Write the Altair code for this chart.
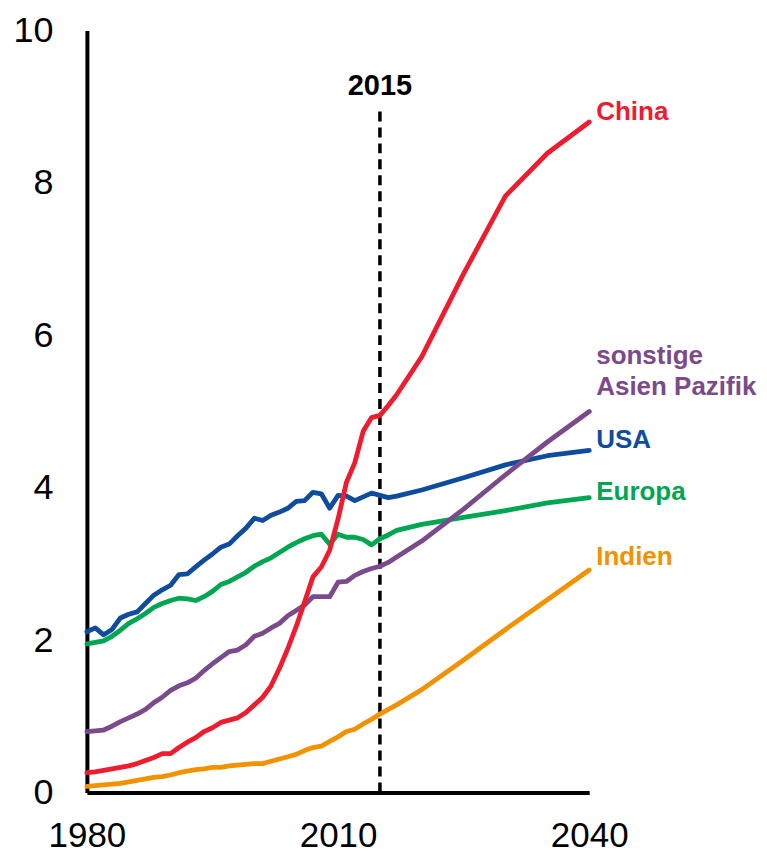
import altair as alt
import pandas as pd

years = list(range(1980, 2018)) + [2020, 2025, 2030, 2035, 2040]

china = [0.26, 0.27, 0.29, 0.31, 0.33, 0.35, 0.38, 0.42, 0.46, 0.51,
         0.51, 0.59, 0.66, 0.72, 0.80, 0.85, 0.92, 0.95, 0.98, 1.05,
         1.15, 1.25, 1.40, 1.63, 1.89, 2.18, 2.50, 2.83, 2.96, 3.18,
         3.59, 4.07, 4.33, 4.74, 4.92, 4.95, 5.08, 5.22,
         5.72, 6.81, 7.83, 8.39, 8.80]
usa = [2.11, 2.16, 2.07, 2.14, 2.29, 2.34, 2.37, 2.48, 2.59, 2.66,
       2.72, 2.86, 2.87, 2.96, 3.05, 3.13, 3.22, 3.26, 3.37, 3.47,
       3.60, 3.57, 3.64, 3.68, 3.73, 3.82, 3.83, 3.94, 3.92, 3.73,
       3.90, 3.89, 3.83, 3.88, 3.93, 3.90, 3.87, 3.89,
       3.97, 4.13, 4.30, 4.42, 4.49]
europa = [1.95, 1.97, 1.99, 2.05, 2.13, 2.22, 2.28, 2.35, 2.43, 2.48,
          2.52, 2.55, 2.54, 2.52, 2.57, 2.64, 2.73, 2.77, 2.83, 2.89,
          2.97, 3.03, 3.08, 3.15, 3.22, 3.28, 3.33, 3.37, 3.39, 3.26,
          3.39, 3.35, 3.35, 3.32, 3.25, 3.33, 3.38, 3.44,
          3.52, 3.61, 3.70, 3.80, 3.87]
asien = [0.80, 0.81, 0.82, 0.87, 0.93, 0.98, 1.03, 1.09, 1.18, 1.25,
         1.34, 1.40, 1.44, 1.50, 1.60, 1.69, 1.77, 1.85, 1.87, 1.94,
         2.05, 2.09, 2.16, 2.22, 2.32, 2.39, 2.46, 2.57, 2.57, 2.57,
         2.76, 2.77, 2.85, 2.90, 2.94, 2.97, 3.02, 3.09,
         3.30, 3.72, 4.17, 4.60, 5.00]
indien = [0.08, 0.09, 0.10, 0.11, 0.12, 0.14, 0.16, 0.18, 0.20, 0.21,
          0.23, 0.26, 0.28, 0.30, 0.31, 0.33, 0.33, 0.35, 0.36, 0.37,
          0.38, 0.38, 0.41, 0.44, 0.47, 0.50, 0.55, 0.59, 0.61, 0.67,
          0.73, 0.80, 0.83, 0.90, 0.96, 1.03, 1.09, 1.15,
          1.35, 1.74, 2.14, 2.53, 2.92]

series_names = ["Indien", "Europa", "USA", "Asien", "China"]
series_values = [indien, europa, usa, asien, china]
colors = ["#F39200", "#00A651", "#0F4C9E", "#7B4A8C", "#EE1C2E"]

# label lines: (series, text, dy offset from line end)
label_lines = [
    ("China", "China", -2),
    ("Asien", "sonstige", -48),
    ("Asien", "Asien Pazifik", -17),
    ("USA", "USA", -2),
    ("Europa", "Europa", 2),
    ("Indien", "Indien", -5),
]

marker_year = [2015]
marker_top = [9.0]
marker_label = ["2015"]

rows = []
for name, vals in zip(series_names, series_values):
    for yr, v in zip(years, vals):
        rows.append({"year": yr, "value": v, "series": name})
df = pd.DataFrame(rows)

color_scale = alt.Scale(domain=series_names, range=colors)
FONT = "Liberation Sans"

x_enc = alt.X("year:Q", scale=alt.Scale(domain=[1980, 2040], nice=False, zero=False),
              axis=alt.Axis(values=[1980, 2010, 2040], format="d", title=None,
                            grid=False, ticks=False, labelFontSize=35,
                            labelFont=FONT, labelColor="black", labelPadding=26,
                            domainColor="black", domainWidth=4, labelFlush=False))
y_enc = alt.Y("value:Q", scale=alt.Scale(domain=[0, 10], nice=False),
              axis=alt.Axis(values=[0, 2, 4, 6, 8, 10], format="d", title=None, grid=False,
                            ticks=False, labelFontSize=36, labelFont=FONT,
                            labelColor="black", labelPadding=34,
                            domainColor="black", domainWidth=4))

lines = alt.Chart(df).mark_line(strokeWidth=4.8, strokeCap="round", strokeJoin="round").encode(
    x=x_enc,
    y=y_enc,
    color=alt.Color("series:N", scale=color_scale, legend=None),
    order=alt.Order("year:Q"),
)

mdf = pd.DataFrame({"year": marker_year, "top": marker_top, "label": marker_label, "zero": [0]})
rule = alt.Chart(mdf).mark_rule(color="black", strokeWidth=3.5, strokeDash=[10, 6]).encode(
    x="year:Q", y="zero:Q", y2="top:Q")
rule_text = alt.Chart(mdf).mark_text(fontSize=29, fontWeight="bold", font=FONT, color="black",
                                     baseline="alphabetic", dy=-12).encode(
    x="year:Q", y="top:Q", text="label:N")

end_df = df[df["year"] == 2040]
label_layers = []
for ser, txt, dy in label_lines:
    ldf = end_df[end_df["series"] == ser].assign(text=txt)
    label_layers.append(
        alt.Chart(ldf).mark_text(align="left", baseline="alphabetic", dx=7, dy=dy,
                                 fontSize=26, fontWeight="bold", font=FONT).encode(
            x="year:Q", y="value:Q", text="text:N",
            color=alt.Color("series:N", scale=color_scale, legend=None))
    )

chart = alt.layer(rule, rule_text, lines, *label_layers).properties(
    width=503, height=763,
    background="white",
    autosize=alt.AutoSizeParams(type="none"),
    padding={"left": 79, "top": 22, "right": 170, "bottom": 61},
).configure_view(stroke=None)

chart.save("out.html", embed_options={"renderer": "svg", "actions": False})
